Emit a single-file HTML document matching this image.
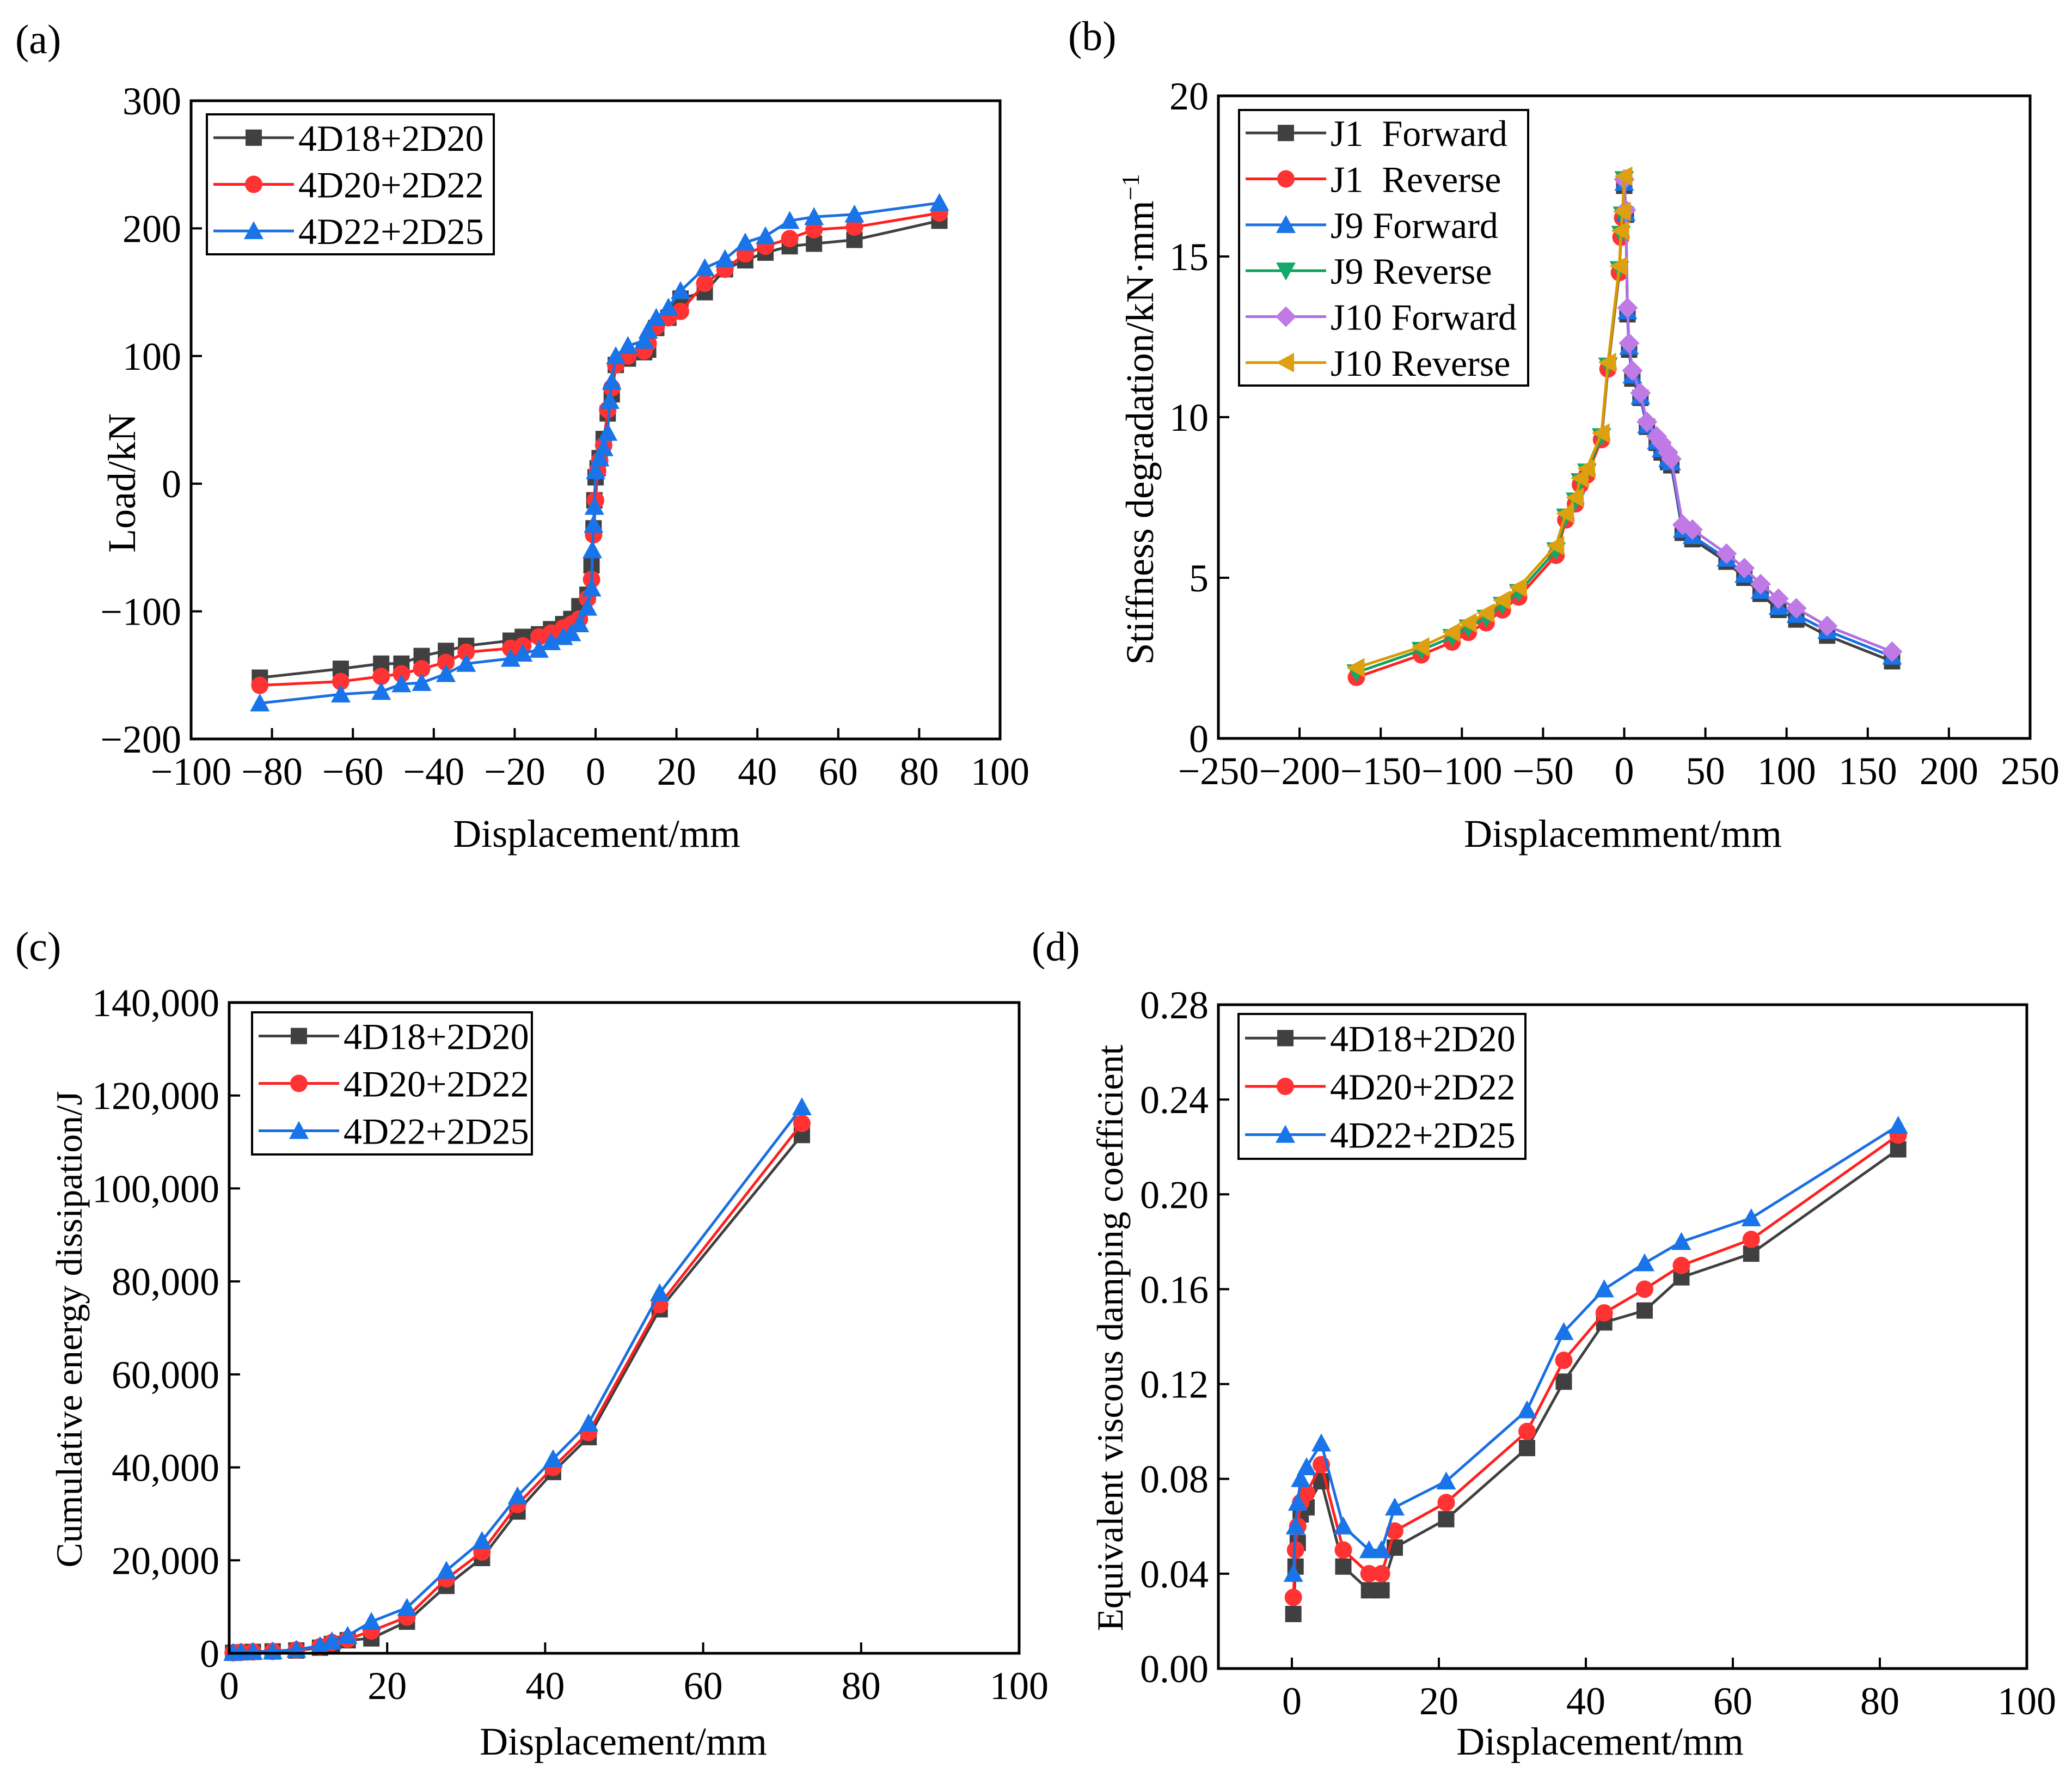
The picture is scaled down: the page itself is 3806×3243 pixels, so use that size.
<!DOCTYPE html>
<html><head><meta charset="utf-8">
<style>
html,body{margin:0;padding:0;background:#fff;}
svg{display:block;}
svg text{font-family:"Liberation Serif","DejaVu Serif",serif;}
</style></head>
<body>
<svg id="fig" width="3806" height="3243" viewBox="0 0 3806 3243" xmlns="http://www.w3.org/2000/svg" font-family="Liberation Serif, DejaVu Serif, serif">
</svg>
<script>
// ---------- Panel (a) data ----------
const aBlackX=[-83,-63,-53,-48,-43,-37,-32,-21,-18,-14,-11,-8,-6,-4,-2,-1,-0.5,-0.3,0,0.5,1,2,3,4,5,8,12,13,15,18,21,27,32,37,42,48,54,64,85];
const aBlackY=[-152,-145,-141,-141,-135,-131,-127,-123,-120,-118,-114,-110,-106,-96,-87,-64,-35,-13,5,12,20,35,55,70,93,98,103,105,122,130,145,150,168,175,181,186,188,191,206];
const aRedX=[-83,-63,-53,-48,-43,-37,-32,-21,-18,-14,-11,-8,-6,-4,-2,-1,-0.5,0,0.5,1,2,3,4,5,8,12,13,15,18,21,27,32,37,42,48,54,64,85];
const aRedY=[-158,-155,-151,-149,-145,-140,-132,-129,-127,-120,-117,-113,-110,-106,-90,-75,-40,-13,10,18,30,58,75,93,100,104,110,123,130,135,157,168,180,186,192,199,201,212];
const aBlueX=[-83,-63,-53,-48,-43,-37,-32,-21,-18,-14,-11,-8,-6,-4,-2,-1,-0.8,-0.5,-0.3,0,1,2,3,3.5,4,5,8,12,13,15,18,21,27,32,37,42,48,54,64,85];
const aBlueY=[-172,-165,-163,-157,-156,-149,-141,-137,-133,-130,-124,-120,-117,-110,-97,-82,-52,-32,-18,10,20,28,40,65,80,100,108,112,120,130,138,151,169,176,189,194,206,209,211,220];
const aXTicks=[-100,-80,-60,-40,-20,0,20,40,60,80,100];
const aYTicks=[-200,-100,0,100,200,300];
const aXLabels=["\u2212100","\u221280","\u221260","\u221240","\u221220","0","20","40","60","80","100"];
const aYLabels=["\u2212200","\u2212100","0","100","200","300"];
const aNames=["4D18+2D20","4D20+2D22","4D22+2D25"];

// ---------- Panel (b) data ----------
const bRevX=[-165,-125,-106,-96,-85,-75,-65,-42,-36,-30,-27,-23,-14,-10,-3,-2,-1,0];
const bJ1RevY=[1.9,2.6,3.0,3.3,3.6,4.0,4.4,5.7,6.8,7.3,7.9,8.2,9.3,11.5,14.5,15.6,16.2,17.4];
const bJ9RevY=[2.05,2.75,3.15,3.45,3.75,4.15,4.55,5.85,6.9,7.4,8.0,8.3,9.4,11.6,14.6,15.7,16.3,17.4];
const bJ10RevY=[2.2,2.85,3.3,3.6,3.9,4.3,4.7,6.0,7.0,7.5,8.1,8.4,9.5,11.7,14.7,15.8,16.4,17.5];
const bFwdX=[0,1,2,3,5,10,14,20,23,27,29,36,42,63,74,84,95,106,125,165];
const bJ1FwdY=[17.2,16.3,13.2,12.1,11.2,10.6,9.7,9.2,8.9,8.6,8.5,6.4,6.2,5.5,5.0,4.5,4.0,3.7,3.2,2.4];
const bJ9FwdY=[17.3,16.35,13.3,12.2,11.3,10.65,9.75,9.25,9.0,8.7,8.6,6.5,6.3,5.6,5.1,4.6,4.1,3.85,3.35,2.55];
const bJ10FwdY=[17.4,16.45,13.4,12.3,11.45,10.75,9.85,9.4,9.2,8.9,8.7,6.65,6.5,5.75,5.3,4.8,4.35,4.05,3.5,2.7];
const bXTicks=[-250,-200,-150,-100,-50,0,50,100,150,200,250];
const bYTicks=[0,5,10,15,20];
const bXLabels=["\u2212250","\u2212200","\u2212150","\u2212100","\u221250","0","50","100","150","200","250"];
const bYLabels=["0","5","10","15","20"];
const bNames=["J1  Forward","J1  Reverse","J9 Forward","J9 Reverse","J10 Forward","J10 Reverse"];

// ---------- Panel (c) data ----------
const cX=[0.5,1.5,3,5.5,8.5,11.5,13,15,18,22.5,27.5,32,36.5,41,45.5,54.5,72.5];
const cBlackY=[100,200,300,400,600,1200,2000,2800,3200,6800,14500,20500,30500,39000,46500,74000,111500];
const cRedY=[100,200,300,400,700,1400,2300,3000,4800,7800,16000,21800,32000,40000,47500,75000,114000];
const cBlueY=[150,250,350,450,800,1600,2600,3800,6800,9800,17800,24200,33800,41800,49500,77500,117500];
const cXTicks=[0,20,40,60,80,100];
const cYTicks=[0,20000,40000,60000,80000,100000,120000,140000];
const cXLabels=["0","20","40","60","80","100"];
const cYLabels=["0","20,000","40,000","60,000","80,000","100,000","120,000","140,000"];

// ---------- Panel (d) data ----------
const dX=[0.2,0.5,0.8,1.2,2,4,7,10.5,12.2,14,21,32,37,42.5,48,53,62.5,82.5];
const dBlackY=[.023,.043,.053,.065,.068,.079,.043,.033,.033,.051,.063,.093,.121,.146,.151,.165,.175,.219];
const dRedY=[.030,.050,.060,.070,.074,.086,.050,.040,.040,.058,.070,.100,.130,.150,.160,.170,.181,.225];
const dBlueY=[.040,.060,.070,.080,.085,.095,.060,.050,.050,.068,.079,.109,.142,.160,.171,.180,.190,.229];
const dXTicks=[0,20,40,60,80,100];
const dYTicks=[0,0.04,0.08,0.12,0.16,0.20,0.24,0.28];
const dXLabels=["0","20","40","60","80","100"];
const dYLabels=["0.00","0.04","0.08","0.12","0.16","0.20","0.24","0.28"];

const NS="http://www.w3.org/2000/svg";
const FF="Liberation Serif, DejaVu Serif, serif";
const FS=72;
const LFS=68;
const svg=document.getElementById('fig');
const COL={black:"#404040",red:"#ff3333",blue:"#1874e8",green:"#14a86a",purple:"#c07ae6",orange:"#dda010"};
const LINE={black:"#404040",red:"#ff2020",blue:"#1a6fe0",green:"#10a060",purple:"#b070e0",orange:"#d89a00"};
function el(tag,attrs,parent){const e=document.createElementNS(NS,tag);for(const k in attrs)e.setAttribute(k,attrs[k]);(parent||svg).appendChild(e);return e;}
function txt(s,attrs,parent){attrs['font-family']=FF;const e=el('text',attrs,parent);e.textContent=s;return e;}
function marker(g,type,x,y,color){
  const s=15;let m;
  if(type==='square')m=el('rect',{x:x-s,y:y-s,width:2*s,height:2*s,fill:color},g);
  else if(type==='circle')m=el('circle',{cx:x,cy:y,r:s+1,fill:color},g);
  else if(type==='up')m=el('polygon',{points:`${x},${y-s-3} ${x-s-3},${y+s} ${x+s+3},${y+s}`,fill:color},g);
  else if(type==='down')m=el('polygon',{points:`${x},${y+s+3} ${x-s-3},${y-s} ${x+s+3},${y-s}`,fill:color},g);
  else if(type==='diamond')m=el('polygon',{points:`${x},${y-s-4} ${x+s+4},${y} ${x},${y+s+4} ${x-s-4},${y}`,fill:color},g);
  else if(type==='left')m=el('polygon',{points:`${x-s-3},${y} ${x+s},${y-s-3} ${x+s},${y+s+3}`,fill:color},g);
  
  
}
function panel(p){
  const g=el('g',{});
  
  
  const X=v=>p.L+(v-p.x0)/(p.x1-p.x0)*(p.R-p.L);
  const Y=v=>p.B-(v-p.y0)/(p.y1-p.y0)*(p.B-p.T);
  p.series.forEach(s=>{
    const sg=el('g',{},g);
    
    
    const pts=s.x.map((v,i)=>X(v)+','+Y(s.y[i])).join(' ');
    const pl=el('polyline',{points:pts,fill:'none',stroke:LINE[s.c],'stroke-width':5,'stroke-linejoin':'round'},sg);
    
    
    s.x.forEach((v,i)=>marker(sg,s.m,X(v),Y(s.y[i]),COL[s.c]));
  });
  const fr=el('rect',{x:p.L,y:p.T,width:p.R-p.L,height:p.B-p.T,fill:'none',stroke:'#000','stroke-width':5},g);
  
  
  p.xt.forEach((v,i)=>{
    const x=X(v);
    el('line',{x1:x,y1:p.B,x2:x,y2:p.B-20,stroke:'#000','stroke-width':4},g);
    const t=txt(p.xl[i],{x:x,y:p.B+84,'font-size':FS,'text-anchor':'middle'},g);
    
    
  });
  p.yt.forEach((v,i)=>{
    const y=Y(v);
    el('line',{x1:p.L,y1:y,x2:p.L+20,y2:y,stroke:'#000','stroke-width':4},g);
    const t=txt(p.yl[i],{x:p.L-18,y:y+25,'font-size':FS,'text-anchor':'end'},g);
    
    
  });
  const xt=txt(p.xTitle,{x:p.xtx,y:p.xty,'font-size':FS,'text-anchor':'middle'},g);
  
  
  const yt=el('text',{x:0,y:0,'font-size':p.yfs||FS,'font-family':FF,'text-anchor':'middle',transform:`translate(${p.ytx},${p.yty}) rotate(-90)`},g);
  yt.textContent=p.yTitle;
  if(p.sup){const ts=el('tspan',{'font-size':46,dy:-26},yt);ts.textContent=p.sup;}
  
  
  const pl=txt(p.plabel,{x:p.plx,y:p.ply,'font-size':76},g);
  
  
  const lg=el('g',{},g);
  
  
  const lb=p.leg;
  el('rect',{x:lb.x,y:lb.y,width:lb.w,height:lb.h,fill:'#fff',stroke:'#000','stroke-width':4},lg);
  const step=lb.h/p.series.length;
  p.series.forEach((s,i)=>{
    const cy=lb.y+step*(i+0.5);
    const e=el('g',{},lg);
    
    
    el('line',{x1:lb.x+12,y1:cy,x2:lb.x+160,y2:cy,stroke:LINE[s.c],'stroke-width':5},e);
    marker(e,s.m,lb.x+86,cy,COL[s.c]);
    const t=txt(s.label,{x:lb.x+168,y:cy+24,'font-size':LFS},e);
    t.setAttribute('style','white-space:pre');
  });
}
panel({name:'panel-a-load-displacement',L:351,R:1837,T:185,B:1357,x0:-100,x1:100,y0:-200,y1:300,
  xt:aXTicks,xl:aXLabels,yt:aYTicks,yl:aYLabels,xTitle:'Displacement/mm',xtx:1096,xty:1555,
  yTitle:'Load/kN',ytx:248,yty:887,plabel:'(a)',plx:28,ply:98,
  leg:{x:380,y:210,w:527,h:257},
  series:[{label:aNames[0],x:aBlackX,y:aBlackY,c:'black',m:'square'},{label:aNames[1],x:aRedX,y:aRedY,c:'red',m:'circle'},{label:aNames[2],x:aBlueX,y:aBlueY,c:'blue',m:'up'}]});
panel({name:'panel-b-stiffness-degradation',L:2238,R:3729,T:176,B:1356,x0:-250,x1:250,y0:0,y1:20,
  xt:bXTicks,xl:bXLabels,yt:bYTicks,yl:bYLabels,xTitle:'Displacemment/mm',xtx:2981,xty:1555,
  yTitle:'Stiffness degradation/kN\u00b7mm',sup:'\u22121',ytx:2118,yty:770,plabel:'(b)',plx:1962,ply:92,
  leg:{x:2276,y:202,w:531,h:506},
  series:[{label:bNames[0],x:bFwdX,y:bJ1FwdY,c:'black',m:'square'},{label:bNames[1],x:bRevX,y:bJ1RevY,c:'red',m:'circle'},
    {label:bNames[2],x:bFwdX,y:bJ9FwdY,c:'blue',m:'up'},{label:bNames[3],x:bRevX,y:bJ9RevY,c:'green',m:'down'},
    {label:bNames[4],x:bFwdX,y:bJ10FwdY,c:'purple',m:'diamond'},{label:bNames[5],x:bRevX,y:bJ10RevY,c:'orange',m:'left'}]});
panel({name:'panel-c-energy-dissipation',L:421,R:1872,T:1841,B:3036,x0:0,x1:100,y0:0,y1:140000,
  xt:cXTicks,xl:cXLabels,yt:cYTicks,yl:cYLabels,xTitle:'Displacement/mm',xtx:1145,xty:3222,
  yTitle:'Cumulative energy dissipation/J',yfs:68,ytx:150,yty:2441,plabel:'(c)',plx:28,ply:1764,
  leg:{x:463,y:1859,w:514,h:261},
  series:[{label:aNames[0],x:cX,y:cBlackY,c:'black',m:'square'},{label:aNames[1],x:cX,y:cRedY,c:'red',m:'circle'},{label:aNames[2],x:cX,y:cBlueY,c:'blue',m:'up'}]});
panel({name:'panel-d-damping-coefficient',L:2238,R:3723,T:1845,B:3064,x0:-10,x1:100,y0:0,y1:0.28,
  xt:dXTicks,xl:dXLabels,yt:dYTicks,yl:dYLabels,xTitle:'Displacement/mm',xtx:2939,xty:3222,
  yTitle:'Equivalent viscous damping coefficient',yfs:68,ytx:2062,yty:2457,plabel:'(d)',plx:1895,ply:1764,
  leg:{x:2275,y:1862,w:527,h:266},
  series:[{label:aNames[0],x:dX,y:dBlackY,c:'black',m:'square'},{label:aNames[1],x:dX,y:dRedY,c:'red',m:'circle'},{label:aNames[2],x:dX,y:dBlueY,c:'blue',m:'up'}]});
</script>
</body></html>
